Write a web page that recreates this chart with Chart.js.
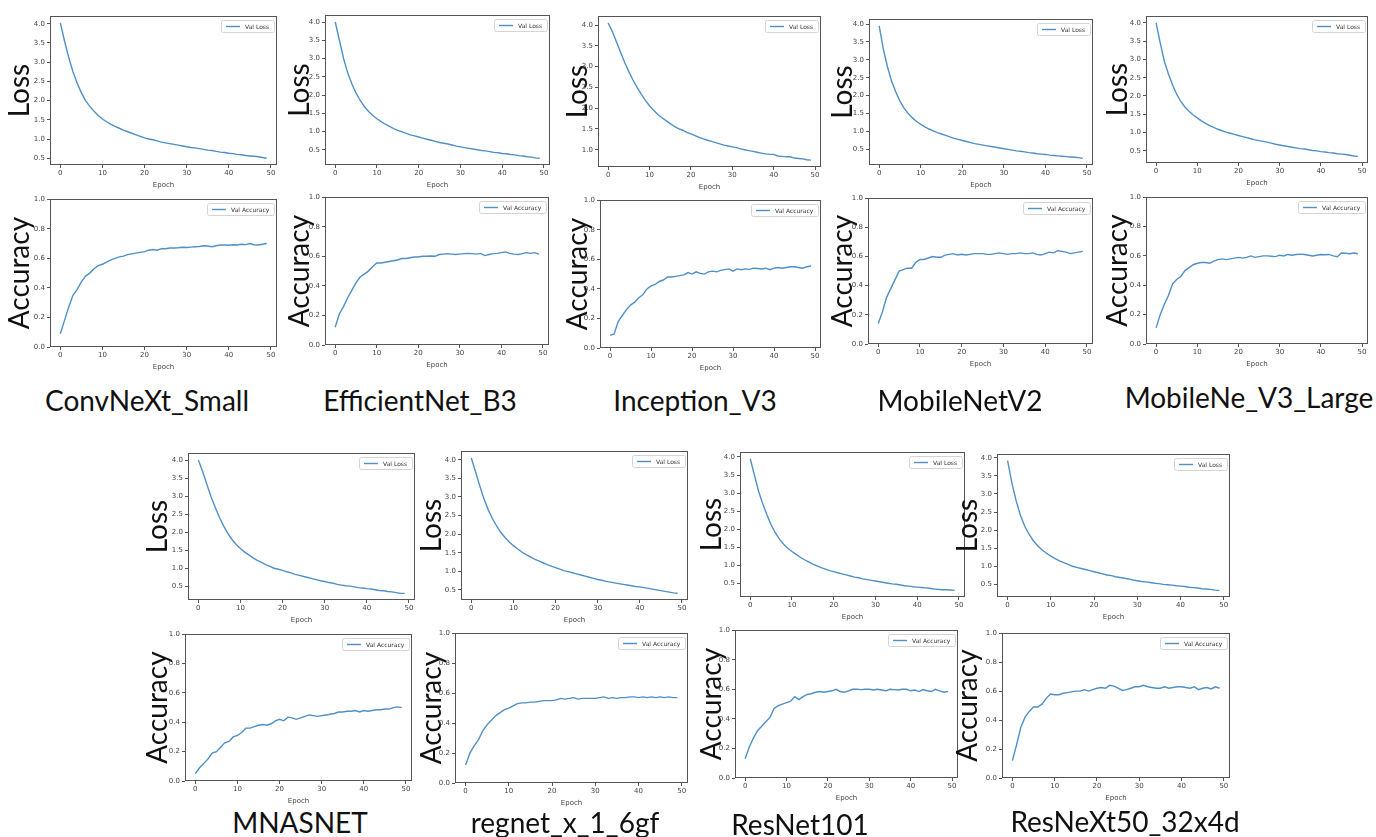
<!DOCTYPE html>
<html>
<head>
<meta charset="utf-8">
<script src="https://cdn.jsdelivr.net/npm/chart.js@4.4.0/dist/chart.umd.min.js"></script>
<style>
  body { margin: 0; background: #fff; width: 1376px; height: 837px; position: relative; overflow: hidden; }
  canvas { position: absolute; }
  .name { position: absolute; font-family: Lato, sans-serif; font-size: 28px; color: #111; transform: translate(-50%, -50%); white-space: nowrap; }
</style>
</head>
<body>
<script>
// ----------------- Data -----------------
const epochs = [0, 1, 2, 3, 4, 5, 6, 7, 8, 9, 10, 11, 12, 13, 14, 15, 16, 17, 18, 19, 20, 21, 22, 23, 24,
                25, 26, 27, 28, 29, 30, 31, 32, 33, 34, 35, 36, 37, 38, 39, 40, 41, 42, 43, 44, 45, 46, 47, 48, 49];
const epochTicks = [0, 10, 20, 30, 40, 50];
const models = ['ConvNeXt_Small', 'EfficientNet_B3', 'Inception_V3', 'MobileNetV2', 'MobileNe_V3_Large',
                'MNASNET', 'regnet_x_1_6gf', 'ResNet101', 'ResNeXt50_32x4d'];

const convnextLoss = [4.02, 3.55, 3.12, 2.75, 2.45, 2.2, 2.0, 1.85, 1.72, 1.61, 1.52, 1.45, 1.38, 1.33, 1.28, 1.23, 1.19, 1.15, 1.11, 1.07,
  1.03, 1.0, 0.98, 0.95, 0.92, 0.9, 0.88, 0.86, 0.84, 0.82, 0.8, 0.78, 0.77, 0.75, 0.73, 0.71, 0.7, 0.68, 0.66, 0.65,
  0.63, 0.62, 0.6, 0.59, 0.57, 0.56, 0.55, 0.54, 0.52, 0.5];
const convnextAcc = [0.09, 0.18, 0.27, 0.35, 0.39, 0.44, 0.48, 0.5, 0.53, 0.55, 0.56, 0.575, 0.59, 0.6, 0.61, 0.615, 0.625, 0.63, 0.635, 0.64,
  0.645, 0.655, 0.66, 0.655, 0.665, 0.665, 0.67, 0.67, 0.672, 0.675, 0.673, 0.676, 0.678, 0.68, 0.685, 0.683, 0.678, 0.685, 0.69, 0.69,
  0.688, 0.692, 0.69, 0.695, 0.693, 0.7, 0.692, 0.69, 0.695, 0.7];

const efficientLoss = [4.0, 3.5, 3.0, 2.6, 2.3, 2.05, 1.85, 1.68, 1.55, 1.44, 1.35, 1.27, 1.2, 1.14, 1.08, 1.03, 0.99, 0.95, 0.91, 0.88,
  0.85, 0.82, 0.79, 0.76, 0.73, 0.7, 0.68, 0.66, 0.63, 0.6, 0.58, 0.56, 0.54, 0.52, 0.5, 0.48, 0.47, 0.45, 0.43, 0.42,
  0.4, 0.39, 0.37, 0.36, 0.34, 0.33, 0.31, 0.3, 0.28, 0.27];
const efficientAcc = [0.12, 0.21, 0.26, 0.32, 0.37, 0.42, 0.46, 0.48, 0.5, 0.53, 0.555, 0.555, 0.56, 0.565, 0.57, 0.575, 0.585, 0.585, 0.59, 0.595,
  0.595, 0.6, 0.6, 0.602, 0.6, 0.612, 0.615, 0.618, 0.615, 0.612, 0.615, 0.618, 0.62, 0.618, 0.615, 0.62, 0.605, 0.612, 0.618, 0.62,
  0.625, 0.63, 0.62, 0.615, 0.612, 0.618, 0.625, 0.62, 0.625, 0.615];

const inceptionLoss = [4.05, 3.85, 3.6, 3.35, 3.1, 2.88, 2.68, 2.5, 2.34, 2.19, 2.06, 1.95, 1.85, 1.77, 1.7, 1.63, 1.56, 1.51, 1.47, 1.42,
  1.38, 1.34, 1.3, 1.26, 1.23, 1.2, 1.17, 1.14, 1.11, 1.09, 1.07, 1.05, 1.02, 1.0, 0.98, 0.96, 0.94, 0.92, 0.9, 0.89,
  0.89, 0.85, 0.84, 0.83, 0.83, 0.8, 0.79, 0.78, 0.76, 0.75];
const inceptionAcc = [0.085, 0.095, 0.18, 0.22, 0.26, 0.29, 0.31, 0.34, 0.36, 0.4, 0.42, 0.43, 0.45, 0.46, 0.48, 0.48, 0.485, 0.49, 0.495, 0.51,
  0.5, 0.515, 0.505, 0.5, 0.515, 0.52, 0.515, 0.525, 0.53, 0.535, 0.52, 0.535, 0.53, 0.535, 0.532, 0.54, 0.538, 0.535, 0.54, 0.53,
  0.54, 0.545, 0.54, 0.545, 0.55, 0.55, 0.545, 0.54, 0.55, 0.555];

const mobileV2Loss = [3.95, 3.3, 2.8, 2.4, 2.1, 1.85, 1.65, 1.5, 1.38, 1.28, 1.2, 1.13, 1.07, 1.02, 0.97, 0.93, 0.89, 0.85, 0.81, 0.78,
  0.75, 0.72, 0.69, 0.66, 0.64, 0.62, 0.6, 0.58, 0.56, 0.54, 0.52, 0.5, 0.48, 0.46, 0.45, 0.43, 0.41, 0.4, 0.38, 0.37,
  0.36, 0.34, 0.33, 0.32, 0.31, 0.3, 0.29, 0.28, 0.27, 0.25];
const mobileV2Acc = [0.14, 0.22, 0.32, 0.38, 0.44, 0.5, 0.51, 0.52, 0.52, 0.56, 0.58, 0.58, 0.59, 0.6, 0.595, 0.595, 0.61, 0.615, 0.62, 0.61,
  0.615, 0.61, 0.615, 0.62, 0.62, 0.62, 0.615, 0.615, 0.62, 0.625, 0.62, 0.615, 0.62, 0.62, 0.625, 0.62, 0.62, 0.625, 0.615, 0.61,
  0.62, 0.63, 0.625, 0.64, 0.635, 0.63, 0.62, 0.625, 0.63, 0.635];

const mobileV3Loss = [4.0, 3.45, 2.95, 2.6, 2.3, 2.05, 1.85, 1.7, 1.58, 1.48, 1.4, 1.32, 1.25, 1.19, 1.14, 1.09, 1.05, 1.01, 0.98, 0.95,
  0.92, 0.89, 0.86, 0.83, 0.8, 0.78, 0.76, 0.74, 0.71, 0.68, 0.66, 0.64, 0.62, 0.6, 0.58, 0.56, 0.55, 0.53, 0.51, 0.5,
  0.48, 0.47, 0.45, 0.44, 0.42, 0.41, 0.4, 0.38, 0.36, 0.35];
const mobileV3Acc = [0.11, 0.2, 0.27, 0.33, 0.41, 0.44, 0.46, 0.5, 0.52, 0.54, 0.55, 0.555, 0.555, 0.55, 0.565, 0.575, 0.58, 0.575, 0.58, 0.585,
  0.59, 0.585, 0.59, 0.6, 0.59, 0.595, 0.6, 0.6, 0.598, 0.595, 0.605, 0.6, 0.61, 0.605, 0.61, 0.612, 0.61, 0.605, 0.6, 0.605,
  0.61, 0.608, 0.61, 0.6, 0.595, 0.62, 0.618, 0.615, 0.62, 0.615];

const mnasLoss = [4.02, 3.7, 3.35, 3.0, 2.7, 2.42, 2.18, 1.97, 1.8, 1.66, 1.55, 1.45, 1.37, 1.29, 1.22, 1.16, 1.1, 1.05, 1.0, 0.97,
  0.94, 0.9, 0.87, 0.83, 0.8, 0.77, 0.74, 0.71, 0.68, 0.65, 0.63, 0.6, 0.58, 0.55, 0.53, 0.51, 0.5, 0.48, 0.46, 0.45,
  0.43, 0.42, 0.4, 0.38, 0.37, 0.35, 0.34, 0.32, 0.3, 0.3];
const mnasAcc = [0.05, 0.09, 0.12, 0.15, 0.19, 0.2, 0.23, 0.26, 0.27, 0.3, 0.31, 0.33, 0.36, 0.36, 0.37, 0.38, 0.385, 0.38, 0.39, 0.41,
  0.42, 0.41, 0.435, 0.43, 0.42, 0.43, 0.44, 0.45, 0.445, 0.44, 0.445, 0.45, 0.455, 0.46, 0.47, 0.47, 0.475, 0.475, 0.48, 0.47,
  0.48, 0.475, 0.48, 0.485, 0.485, 0.49, 0.49, 0.5, 0.505, 0.5];

const regnetLoss = [4.05, 3.68, 3.3, 2.95, 2.66, 2.42, 2.22, 2.05, 1.91, 1.79, 1.69, 1.6, 1.52, 1.45, 1.39, 1.33, 1.28, 1.23, 1.18, 1.14,
  1.1, 1.06, 1.02, 0.99, 0.96, 0.93, 0.9, 0.87, 0.84, 0.81, 0.78, 0.76, 0.73, 0.71, 0.69, 0.67, 0.65, 0.63, 0.61, 0.59,
  0.58, 0.56, 0.54, 0.52, 0.5, 0.48, 0.46, 0.44, 0.42, 0.41];
const regnetAcc = [0.12, 0.2, 0.25, 0.29, 0.35, 0.39, 0.42, 0.45, 0.47, 0.49, 0.5, 0.515, 0.53, 0.535, 0.535, 0.54, 0.54, 0.545, 0.55, 0.55,
  0.55, 0.555, 0.565, 0.56, 0.565, 0.57, 0.56, 0.565, 0.565, 0.565, 0.565, 0.57, 0.575, 0.565, 0.57, 0.565, 0.57, 0.57, 0.575, 0.575,
  0.57, 0.575, 0.57, 0.575, 0.57, 0.575, 0.57, 0.575, 0.57, 0.57];

const resnetLoss = [3.95, 3.5, 3.05, 2.7, 2.4, 2.12, 1.9, 1.72, 1.58, 1.47, 1.38, 1.3, 1.22, 1.15, 1.09, 1.03, 0.98, 0.93, 0.89, 0.85,
  0.82, 0.79, 0.76, 0.73, 0.7, 0.67, 0.65, 0.62, 0.6, 0.58, 0.56, 0.54, 0.52, 0.5, 0.48, 0.47, 0.45, 0.43, 0.42, 0.4,
  0.39, 0.38, 0.37, 0.36, 0.34, 0.33, 0.32, 0.32, 0.31, 0.3];
const resnetAcc = [0.13, 0.21, 0.27, 0.32, 0.35, 0.38, 0.41, 0.47, 0.49, 0.5, 0.51, 0.52, 0.55, 0.53, 0.55, 0.565, 0.57, 0.58, 0.585, 0.58,
  0.585, 0.59, 0.6, 0.585, 0.58, 0.59, 0.6, 0.6, 0.598, 0.6, 0.6, 0.595, 0.6, 0.595, 0.59, 0.6, 0.598, 0.595, 0.6, 0.6,
  0.59, 0.595, 0.585, 0.598, 0.59, 0.585, 0.6, 0.59, 0.58, 0.585];

const resnextLoss = [3.92, 3.3, 2.8, 2.4, 2.1, 1.88, 1.7, 1.56, 1.45, 1.36, 1.28, 1.21, 1.15, 1.1, 1.05, 1.0, 0.97, 0.94, 0.91, 0.88,
  0.85, 0.82, 0.79, 0.76, 0.74, 0.71, 0.69, 0.67, 0.65, 0.62, 0.6, 0.58, 0.57, 0.55, 0.53, 0.52, 0.5, 0.49, 0.48, 0.46,
  0.45, 0.44, 0.42, 0.41, 0.4, 0.38, 0.37, 0.36, 0.34, 0.33];
const resnextAcc = [0.12, 0.23, 0.35, 0.42, 0.46, 0.49, 0.49, 0.51, 0.55, 0.58, 0.575, 0.575, 0.585, 0.59, 0.595, 0.6, 0.6, 0.61, 0.6, 0.61,
  0.62, 0.625, 0.62, 0.64, 0.635, 0.62, 0.605, 0.61, 0.62, 0.63, 0.63, 0.64, 0.63, 0.625, 0.62, 0.62, 0.63, 0.62, 0.625, 0.63,
  0.63, 0.625, 0.62, 0.63, 0.61, 0.62, 0.625, 0.615, 0.63, 0.62];

// ----------------- Layout (plot frames: left, top, right, bottom) -----------------
const panels = [
  { name: models[0], loss: convnextLoss,  acc: convnextAcc,  lossBox: [50, 16, 277, 165],    accBox: [50, 199, 277, 347],    labelX: 20,   nameXY: [147, 400] },
  { name: models[1], loss: efficientLoss, acc: efficientAcc, lossBox: [325, 15, 550, 165],   accBox: [325, 197, 549, 345],   labelX: 300,  nameXY: [420, 400] },
  { name: models[2], loss: inceptionLoss, acc: inceptionAcc, lossBox: [598, 16, 821, 167],   accBox: [600, 200, 821, 348],   labelX: 578,  nameXY: [695, 400] },
  { name: models[3], loss: mobileV2Loss,  acc: mobileV2Acc,  lossBox: [869, 19, 1093, 165],  accBox: [868, 198, 1093, 344],  labelX: 843,  nameXY: [960, 400] },
  { name: models[4], loss: mobileV3Loss,  acc: mobileV3Acc,  lossBox: [1146, 16, 1368, 163], accBox: [1146, 197, 1368, 344], labelX: 1118, nameXY: [1249, 397] },
  { name: models[5], loss: mnasLoss,      acc: mnasAcc,      lossBox: [188, 453, 415, 600],  accBox: [185, 634, 412, 781],   labelX: 158,  nameXY: [300, 822] },
  { name: models[6], loss: regnetLoss,    acc: regnetAcc,    lossBox: [461, 451, 688, 600],  accBox: [455, 633, 688, 783],   labelX: 432,  nameXY: [565, 822] },
  { name: models[7], loss: resnetLoss,    acc: resnetAcc,    lossBox: [740, 452, 965, 597],  accBox: [735, 630, 958, 778],   labelX: 712,  nameXY: [800, 824] },
  { name: models[8], loss: resnextLoss,   acc: resnextAcc,   lossBox: [997, 454, 1230, 597], accBox: [1002, 633, 1230, 778], labelX: 968,  nameXY: [1125, 821] }
];

const LINE = '#4f90c8';
const AXIS = '#555';
const tickFont = { family: 'DejaVu Sans', size: 7 };

// full rectangle round the plot area, and a matplotlib style legend in the upper right corner
const frameBox = {
  id: 'frameBox',
  afterDraw(chart) {
    const { ctx, chartArea: a } = chart;
    ctx.save();
    ctx.strokeStyle = AXIS;
    ctx.lineWidth = 1;
    ctx.strokeRect(Math.round(a.left) + 0.5, Math.round(a.top) + 0.5, Math.round(a.width) - 1, Math.round(a.height) - 1);

    const ds = chart.data.datasets[0];
    ctx.font = '6px "DejaVu Sans"';
    const tw = ctx.measureText(ds.label).width;
    const w = Math.round(5 + 14 + 5 + tw + 5), h = 12;
    const x = Math.round(a.right) - 3 - w, y = Math.round(a.top) + 4;
    ctx.strokeStyle = '#d4d4d4';
    ctx.fillStyle = 'rgba(255,255,255,0.8)';
    ctx.beginPath();
    ctx.roundRect(x + 0.5, y + 0.5, w, h, 2);
    ctx.fill();
    ctx.stroke();
    ctx.strokeStyle = ds.borderColor;
    ctx.lineWidth = 1.4;
    ctx.beginPath();
    ctx.moveTo(x + 5, y + h / 2 + 0.5);
    ctx.lineTo(x + 19, y + h / 2 + 0.5);
    ctx.stroke();
    ctx.fillStyle = '#333';
    ctx.textBaseline = 'middle';
    ctx.fillText(ds.label, x + 24, y + h / 2 + 1);
    ctx.restore();
  }
};

function makeChart(values, kind, box, labelX) {
  const [l, t, r, b] = box;
  const left = labelX - 17, top = t - 6;
  const width = r + 6 - left, height = b + 24 - top;
  const canvas = document.createElement('canvas');
  canvas.width = width;
  canvas.height = height;
  canvas.style.left = left + 'px';
  canvas.style.top = top + 'px';
  document.body.appendChild(canvas);

  let yMin = 0, yMax = 1, step = 0.2;
  if (kind === 'loss') {
    const lo = Math.min(...values), hi = Math.max(...values);
    yMin = lo - 0.05 * (hi - lo);
    yMax = hi + 0.05 * (hi - lo);
    step = 0.5;
  }

  return new Chart(canvas.getContext('2d'), {
    type: 'line',
    data: {
      datasets: [{
        label: kind === 'loss' ? 'Val Loss' : 'Val Accuracy',
        data: epochs.map((e, i) => ({ x: e, y: values[i] })),
        borderColor: LINE,
        backgroundColor: LINE,
        borderWidth: 1.4,
        pointRadius: 0,
        tension: 0,
        fill: false
      }]
    },
    plugins: [frameBox],
    options: {
      responsive: false,
      animation: false,
      layout: { padding: { top: 6, right: 6, left: 0, bottom: 0 } },
      plugins: {
        tooltip: { enabled: false },
        legend: { display: false }
      },
      scales: {
        x: {
          type: 'linear',
          min: -2.45,
          max: 51.45,
          afterBuildTicks: s => { s.ticks = epochTicks.map(v => ({ value: v })); },
          afterFit: s => { s.height = 24; },
          grid: { drawOnChartArea: false, drawTicks: true, tickLength: 3, color: AXIS },
          border: { display: false },
          ticks: { font: tickFont, color: '#444', padding: 1, maxRotation: 0 },
          title: { display: true, text: 'Epoch', font: tickFont, color: '#444', padding: { top: 0, bottom: 0 } }
        },
        y: {
          min: yMin,
          max: yMax,
          afterFit: s => { s.width = l - left; },
          grid: { drawOnChartArea: false, drawTicks: true, tickLength: 3, color: AXIS },
          border: { display: false },
          ticks: {
            stepSize: step,
            includeBounds: false,
            font: tickFont,
            color: '#444',
            padding: 2,
            callback: v => v.toFixed(1)
          },
          title: {
            display: true,
            text: kind === 'loss' ? 'Loss' : 'Accuracy',
            font: { family: 'Lato', size: 28 },
            color: '#111',
            padding: 0
          }
        }
      }
    }
  });
}

panels.forEach(p => {
  makeChart(p.loss, 'loss', p.lossBox, p.labelX);
  makeChart(p.acc, 'acc', p.accBox, p.labelX);
  const div = document.createElement('div');
  div.className = 'name';
  div.textContent = p.name;
  div.style.left = p.nameXY[0] + 'px';
  div.style.top = p.nameXY[1] + 'px';
  document.body.appendChild(div);
});
</script>
</body>
</html>
